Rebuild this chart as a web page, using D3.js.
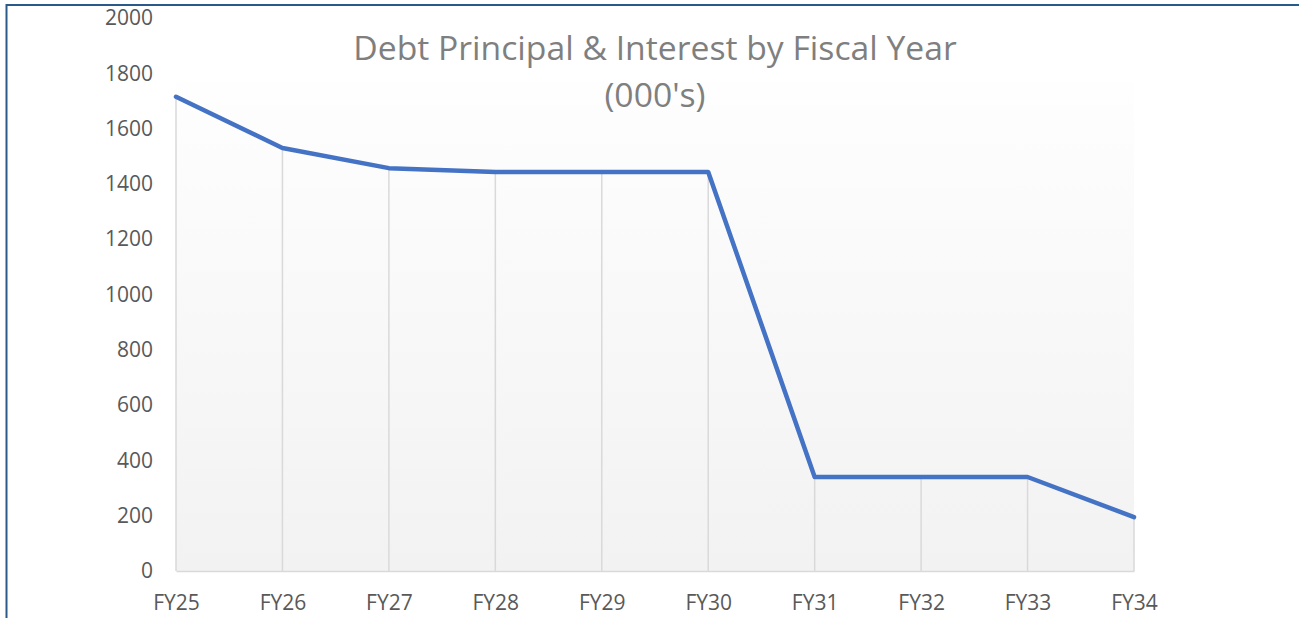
<!DOCTYPE html>
<html>
<head>
<meta charset="utf-8">
<script src="https://cdn.jsdelivr.net/npm/d3@7"></script>
<style>
  body { margin: 0; background: #fff; }
  svg { display: block; }
</style>
</head>
<body>
<div id="plot"></div>
<script>
// chart data (values in thousands)
const years = ["FY25", "FY26", "FY27", "FY28", "FY29", "FY30", "FY31", "FY32", "FY33", "FY34"];
const payments = [1715, 1530, 1457, 1443, 1443, 1443, 340, 340, 340, 195];
const yTicks = [0, 200, 400, 600, 800, 1000, 1200, 1400, 1600, 1800, 2000];
const titleLines = ["Debt Principal & Interest by Fiscal Year", "(000's)"];

const W = 1299, H = 618;
const margin = { top: 18, right: 165, bottom: 47, left: 176 };
const width = W - margin.left - margin.right;
const height = H - margin.top - margin.bottom;
const font = "'Open Sans', sans-serif";

const svg = d3.select("#plot")
  .append("svg")
  .attr("width", W)
  .attr("height", H);

// outer frame (only top and left edges visible)
svg.append("path")
  .attr("d", `M6.5,${H} V5 H${W}`)
  .attr("fill", "none")
  .attr("stroke", "#2a5a8a")
  .attr("stroke-width", 2);

const g = svg.append("g")
  .attr("transform", `translate(${margin.left},${margin.top})`);

// scales
const x = d3.scalePoint()
  .domain(years)
  .range([0, width]);

const y = d3.scaleLinear()
  .domain([0, 2000])
  .range([height, 0]);

// gradient plot area
const defs = svg.append("defs");
const grad = defs.append("linearGradient")
  .attr("id", "bg")
  .attr("x1", 0).attr("y1", 0).attr("x2", 0).attr("y2", 1);
grad.append("stop").attr("offset", "0%").attr("stop-color", "#fefefe");
grad.append("stop").attr("offset", "100%").attr("stop-color", "#f2f2f2");

g.append("rect")
  .attr("x", 0)
  .attr("y", y(1768))
  .attr("width", width)
  .attr("height", height - y(1768))
  .attr("fill", "url(#bg)");

// drop lines
g.selectAll(".drop")
  .data(years)
  .enter()
  .append("line")
  .attr("class", "drop")
  .attr("x1", d => x(d))
  .attr("x2", d => x(d))
  .attr("y1", (d, i) => y(payments[i]))
  .attr("y2", height)
  .attr("stroke", "#d9d9d9")
  .attr("stroke-width", 1.5);

// y axis (labels only)
const yAxis = g.append("g")
  .call(d3.axisLeft(y).tickValues(yTicks).tickFormat(d3.format("d")).tickSize(0).tickPadding(23));
yAxis.select(".domain").remove();
yAxis.selectAll("text")
  .attr("fill", "#595959")
  .style("font-family", font)
  .style("font-size", "21px");

// x axis
const xAxis = g.append("g")
  .attr("transform", `translate(0,${height})`)
  .call(d3.axisBottom(x).tickSize(0).tickPadding(24));
xAxis.select(".domain")
  .attr("stroke", "#d9d9d9")
  .attr("stroke-width", 1.5);
xAxis.selectAll("text")
  .attr("fill", "#595959")
  .style("font-family", font)
  .style("font-size", "21px");

// series line
const line = d3.line()
  .x((d, i) => x(years[i]))
  .y(d => y(d));

g.append("path")
  .datum(payments)
  .attr("d", line)
  .attr("fill", "none")
  .attr("stroke", "#4472c4")
  .attr("stroke-width", 4.5)
  .attr("stroke-linejoin", "round")
  .attr("stroke-linecap", "round");

// title
svg.append("g")
  .selectAll("text")
  .data(titleLines)
  .enter()
  .append("text")
  .attr("x", 655)
  .attr("y", (d, i) => 60 + i * 47)
  .attr("text-anchor", "middle")
  .attr("fill", "#7f7f7f")
  .style("font-family", font)
  .style("font-size", "33.7px")
  .text(d => d);
</script>
</body>
</html>
